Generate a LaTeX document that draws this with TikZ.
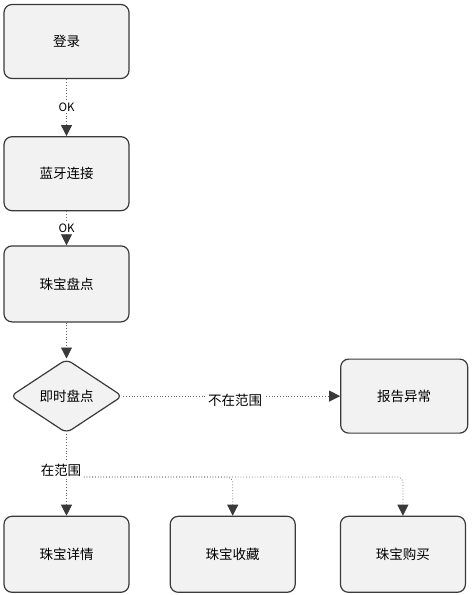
\documentclass[tikz,border=0pt]{standalone}
\usepackage{fontspec}
\usepackage{tikz}
\usetikzlibrary{positioning, arrows.meta, shapes.geometric}
\newfontfamily\cjk{Noto Sans CJK SC}
\definecolor{edge}{HTML}{3A3A3A}
\definecolor{boxfill}{HTML}{F2F2F2}
\definecolor{wire}{HTML}{6A6A6A}

\begin{document}
\begin{tikzpicture}[
  x=1pt, y=1pt,
  every node/.style={font=\cjk\fontsize{13.5}{15}\selectfont},
  stepbox/.style={
    draw=edge, fill=boxfill, line width=1.2pt, rounded corners=8pt,
    minimum width=125pt, minimum height=74pt, align=center
  },
  decide/.style={
    diamond, draw=edge, fill=boxfill, line width=1.2pt, rounded corners=6pt,
    minimum width=112pt, minimum height=74pt, inner sep=0pt, aspect=1.5
  },
  flow/.style={wire, dotted, line width=0.8pt,
    -{Triangle[length=11pt, width=11pt, fill=edge, color=edge]}},
  lbl/.style={fill=white, inner sep=1.5pt, text=black},
  small/.style={font=\cjk\fontsize{11.5}{13}\selectfont}
]
  \useasboundingbox (0,0) rectangle (472,-595);

  \node[stepbox] (login) at (66.5,-41.5) {登录};
  \node[stepbox, below=57pt of login] (bluetooth) {蓝牙连接};
  \node[stepbox, below=34pt of bluetooth, minimum height=76pt] (inventory) {珠宝盘点};
  \node[decide, below=36pt of inventory] (check) {即时盘点};
  \node[stepbox, right=217pt of check, minimum width=127pt] (report) {报告异常};
  \node[stepbox, below=82pt of check, minimum height=76pt] (detail) {珠宝详情};
  \node[stepbox, right=40pt of detail, minimum height=76pt] (collect) {珠宝收藏};
  \node[stepbox, right=44pt of collect, minimum height=76pt] (buy) {珠宝购买};
  \coordinate (fork) at (67,-477);

  \draw[flow] (login) -- node[lbl, small] {OK} (bluetooth);
  \draw[flow] (bluetooth) -- node[lbl, small] {OK} (inventory);
  \draw[flow] (inventory) -- (check);
  \draw[flow] (check) -- node[lbl, pos=0.516, yshift=-4pt] {不在范围} (report);
  \draw[flow] (check) -- (detail);
  \draw[flow, rounded corners=5pt] (fork) -| (collect);
  \draw[flow, rounded corners=5pt] (fork) -| (buy);
  \node[lbl] (inrange) at (61,-470) {在范围};
\end{tikzpicture}
\end{document}
